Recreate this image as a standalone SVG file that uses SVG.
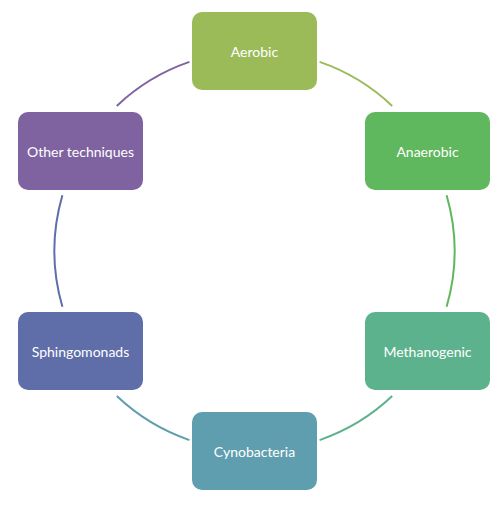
<svg xmlns="http://www.w3.org/2000/svg" width="500" height="505" viewBox="0 0 500 505">
<style>
.n rect{stroke:none}
.n text{font-family:Lato,"Open Sans","Liberation Sans",sans-serif;font-size:14px;fill:#ffffff;text-anchor:middle;dominant-baseline:central}
.c path{fill:none;stroke-width:2}
</style>
<rect width="500" height="505" fill="#ffffff"/>
<g class="c" id="connectors">
<path d="M319.6,61.9 A200,200 0 0 1 392.2,105.9" stroke="#9bbb59"/>
<path d="M446.6,195.2 A200,200 0 0 1 446.6,306.8" stroke="#5fb75e"/>
<path d="M392.2,396.1 A200,200 0 0 1 319.6,440.1" stroke="#5db28e"/>
<path d="M189.4,440.1 A200,200 0 0 1 116.8,396.1" stroke="#5f9eae"/>
<path d="M62.4,306.8 A200,200 0 0 1 62.4,195.2" stroke="#5f6ea8"/>
<path d="M116.8,105.9 A200,200 0 0 1 189.4,61.9" stroke="#7f63a1"/>
</g>
<g class="n" id="aerobic"><rect x="192" y="12" width="125" height="78" rx="10" fill="#9bbb59"/><text x="254.5" y="51">Aerobic</text></g>
<g class="n" id="anaerobic"><rect x="365" y="112" width="125" height="78" rx="10" fill="#5fb75e"/><text x="427.5" y="151">Anaerobic</text></g>
<g class="n" id="methanogenic"><rect x="365" y="312" width="125" height="78" rx="10" fill="#5db28e"/><text x="427.5" y="351">Methanogenic</text></g>
<g class="n" id="cynobacteria"><rect x="192" y="412" width="125" height="78" rx="10" fill="#5f9eae"/><text x="254.5" y="451">Cynobacteria</text></g>
<g class="n" id="sphingomonads"><rect x="18" y="312" width="125" height="78" rx="10" fill="#5f6ea8"/><text x="80.5" y="351">Sphingomonads</text></g>
<g class="n" id="other"><rect x="18" y="112" width="125" height="78" rx="10" fill="#7f63a1"/><text x="80.5" y="151">Other techniques</text></g>
</svg>
